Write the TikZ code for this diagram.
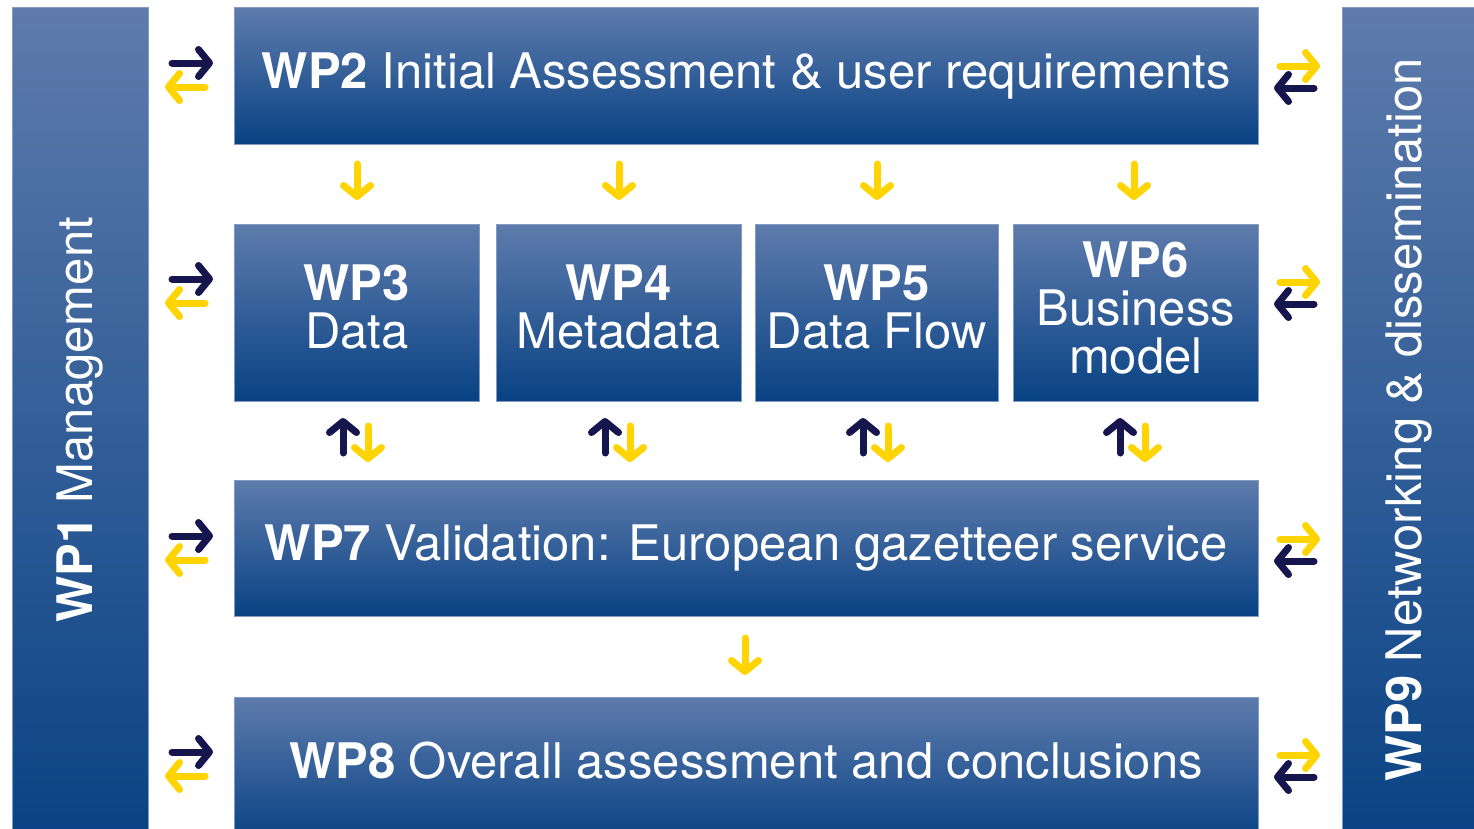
\documentclass[tikz,border=0pt]{standalone}
\usepackage{fontspec}
\setmainfont{TeX Gyre Heros}
\usetikzlibrary{arrows.meta}
\definecolor{boxtop}{RGB}{94,123,172}
\definecolor{boxbot}{RGB}{8,66,132}
\definecolor{boxedge}{RGB}{130,155,195}
\definecolor{navy}{RGB}{22,22,78}
\definecolor{gold}{RGB}{255,212,0}
\begin{document}
\begin{tikzpicture}[x=1pt,y=-1pt,
  wp/.style={rectangle, inner sep=0pt, top color=boxtop, bottom color=boxbot,
    draw=boxedge, line width=0.6pt, text=white, align=center, anchor=north west,
    font=\fontsize{49}{48}\selectfont},
  wptext/.style={text=white, align=center, inner sep=0pt, font=\fontsize{49}{48}\selectfont},
  vtext/.style={wptext, rotate=90},
  arr/.style={line width=7pt, line cap=round, line join=round,
    -{Straight Barb[length=11pt,width=27pt,round]}},
  navyarr/.style={arr, draw=navy},
  goldarr/.style={arr, draw=gold}]
\useasboundingbox[fill=white] (0,0) rectangle (1474,828);
% side bars
\node[wp, minimum width=136pt, minimum height=840pt] (wp1) at (12,7) {};
\node[vtext] (wp1t) at (80,420) {\textbf{WP1} Management};
\node[wp, minimum width=140pt, minimum height=840pt] (wp9) at (1342,7) {};
\node[vtext] (wp9t) at (1409,420) {\textbf{WP9} Networking \& dissemination};
% main boxes
\node[wp, minimum width=1024pt, minimum height=137pt] (wp2) at (234,7) {\textbf{WP2} Initial Assessment \& user requirements};
\node[wp, minimum width=245pt, minimum height=177pt] (wp3) at (234,224) {};
\node[wp, minimum width=245pt, minimum height=177pt] (wp4) at (496,224) {};
\node[wp, minimum width=243pt, minimum height=177pt] (wp5) at (755,224) {};
\node[wp, minimum width=245pt, minimum height=177pt] (wp6) at (1013,224) {};
\node[wptext] (wp3t) at ([yshift=6pt]wp3.center) {\textbf{WP3}\\Data};
\node[wptext] (wp4t) at ([yshift=6pt]wp4.center) {\textbf{WP4}\\Metadata};
\node[wptext] (wp5t) at ([yshift=6pt]wp5.center) {\textbf{WP5}\\Data Flow};
\node[wptext] (wp6t) at ([yshift=5pt]wp6.center) {\textbf{WP6}\\Business\\model};
\node[wp, minimum width=1024pt, minimum height=136pt] (wp7) at (234,480) {\textbf{WP7} Validation: European gazetteer service};
\node[wp, minimum width=1024pt, minimum height=145pt] (wp8) at (234,697) {};
\node[wptext] (wp8t) at (746,761) {\textbf{WP8} Overall assessment and conclusions};
% side arrow pairs
\foreach \c in {75,291,548,764}{
  \draw[navyarr] (172,\c-12) -- (213,\c-12);
  \draw[goldarr] (205,\c+12) -- (165,\c+12);
  \draw[goldarr] (1280,\c-9) -- (1320,\c-9);
  \draw[navyarr] (1314,\c+13) -- (1274,\c+13);
}
% down arrows WP2 -> WP3..6, pairs WP3..6 <-> WP7
\foreach \x in {357,619,877,1134}{
  \draw[goldarr] (\x,164) -- (\x,200);
  \draw[navyarr] (\x-14,453) -- (\x-14,418);
  \draw[goldarr] (\x+11,426) -- (\x+11,462);
}
\draw[goldarr] (745,638) -- (745,675);
\end{tikzpicture}
\end{document}
